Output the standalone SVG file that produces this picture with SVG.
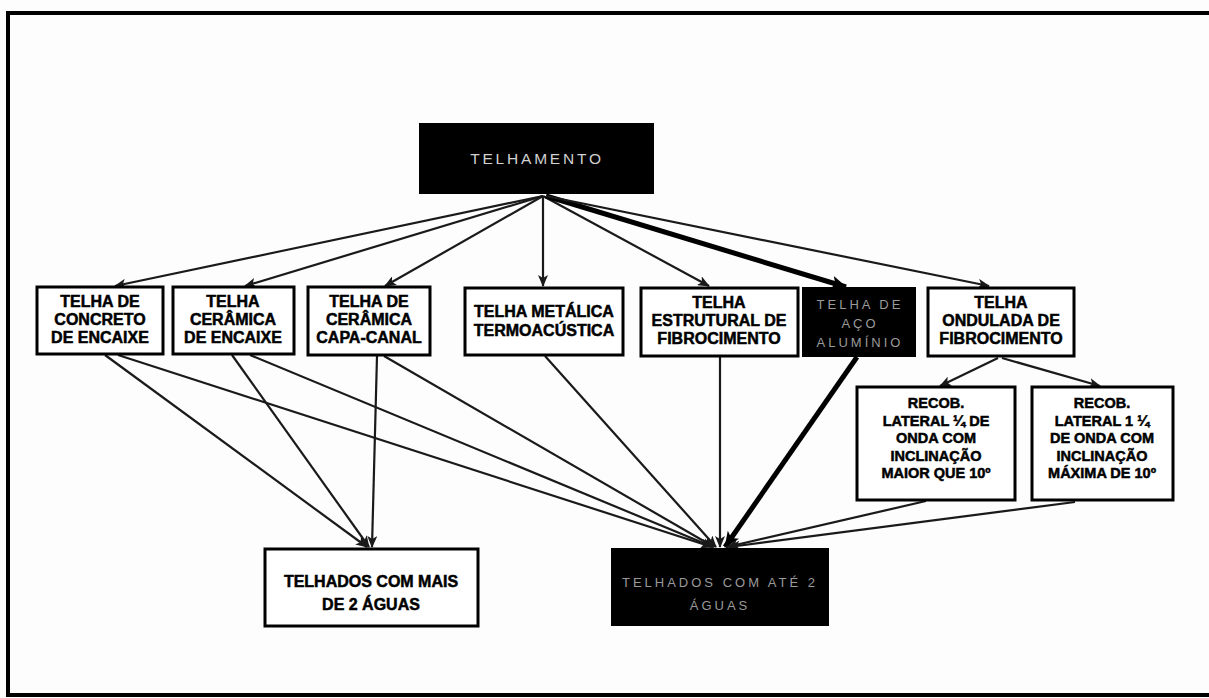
<svg xmlns="http://www.w3.org/2000/svg" width="1209" height="698" viewBox="0 0 1209 698">
<style>
.w{fill:#fff;stroke:#000;stroke-width:3}
.b{fill:#000;stroke:#000;stroke-width:2}
.t{font-family:"Liberation Sans",Arial,sans-serif;font-weight:bold;font-size:16px;fill:#000;stroke:#000;stroke-width:0.5;text-anchor:middle}
.s{font-size:14.5px}
.g{font-family:"Liberation Sans",Arial,sans-serif;font-size:13px;fill:#9a9a9a;text-anchor:middle;letter-spacing:3px}
.c{stroke:#1a1a1a;stroke-width:2.2;fill:none;marker-end:url(#a)}
.k{stroke:#000;stroke-width:5;fill:none;marker-end:url(#ak)}
</style>
<defs>
<marker id="a" markerUnits="userSpaceOnUse" markerWidth="12" markerHeight="10" refX="11" refY="5" orient="auto"><path d="M0,0 L12,5 L0,10 L3,5 Z" fill="#1a1a1a"/></marker>
<marker id="ak" markerUnits="userSpaceOnUse" markerWidth="16" markerHeight="14" refX="15" refY="7" orient="auto"><path d="M0,0 L16,7 L0,14 L4,7 Z" fill="#000"/></marker>
</defs>
<rect width="1209" height="698" fill="#fdfdfd"/>
<path d="M1209,13 L8,13 L8,695 L1209,695" fill="none" stroke="#000" stroke-width="4"/>
<g id="connectors">
<line class="c" x1="543" y1="196" x2="115" y2="286"/>
<line class="c" x1="543" y1="196" x2="245" y2="286"/>
<line class="c" x1="543" y1="196" x2="385" y2="286"/>
<line class="c" x1="543" y1="196" x2="543" y2="286"/>
<line class="c" x1="543" y1="196" x2="709" y2="286"/>
<line class="k" x1="546" y1="196" x2="846" y2="287"/>
<line class="c" x1="546" y1="196" x2="989" y2="286"/>
<line class="c" x1="998" y1="358" x2="940" y2="386"/>
<line class="c" x1="1002" y1="358" x2="1100" y2="386"/>
<line class="c" x1="105" y1="355" x2="367" y2="547"/>
<line class="c" x1="232" y1="355" x2="369" y2="547"/>
<line class="c" x1="377" y1="356" x2="372" y2="547"/>
<line class="c" x1="118" y1="355" x2="712" y2="547"/>
<line class="c" x1="250" y1="355" x2="713" y2="547"/>
<line class="c" x1="384" y1="356" x2="714" y2="547"/>
<line class="c" x1="545" y1="356" x2="716" y2="547"/>
<line class="c" x1="720" y1="357" x2="720" y2="547"/>
<line class="k" x1="857" y1="357" x2="725" y2="547"/>
<line class="c" x1="926" y1="501" x2="727" y2="547"/>
<line class="c" x1="1075" y1="502" x2="729" y2="547"/>
</g>
<g id="telhamento">
<rect class="b" x="420" y="124" width="233" height="69"/>
<text x="537" y="164" font-family="Liberation Sans,Arial,sans-serif" font-size="15.5" fill="#d0d0d0" text-anchor="middle" letter-spacing="2.8">TELHAMENTO</text>
</g>
<g id="n1">
<rect class="w" x="37" y="287" width="126" height="67"/>
<text class="t" x="100" y="307">TELHA DE</text>
<text class="t" x="100" y="325">CONCRETO</text>
<text class="t" x="100" y="343">DE ENCAIXE</text>
</g>
<g id="n2">
<rect class="w" x="173" y="287" width="121" height="67"/>
<text class="t" x="233" y="307">TELHA</text>
<text class="t" x="233" y="325">CERÂMICA</text>
<text class="t" x="233" y="343">DE ENCAIXE</text>
</g>
<g id="n3">
<rect class="w" x="308" y="287" width="122" height="68"/>
<text class="t" x="369" y="307">TELHA DE</text>
<text class="t" x="369" y="325">CERÂMICA</text>
<text class="t" x="369" y="343">CAPA-CANAL</text>
</g>
<g id="n4">
<rect class="w" x="465" y="288" width="158" height="67"/>
<text class="t" x="544" y="317">TELHA METÁLICA</text>
<text class="t" x="544" y="336">TERMOACÚSTICA</text>
</g>
<g id="n5">
<rect class="w" x="641" y="288" width="157" height="68"/>
<text class="t" x="719" y="308">TELHA</text>
<text class="t" x="719" y="326">ESTRUTURAL DE</text>
<text class="t" x="719" y="344">FIBROCIMENTO</text>
</g>
<g id="n6">
<rect class="b" x="803" y="288" width="112" height="68"/>
<text class="g" x="860" y="309">TELHA DE</text>
<text class="g" x="860" y="328">AÇO</text>
<text class="g" x="860" y="347">ALUMÍNIO</text>
</g>
<g id="n7">
<rect class="w" x="928" y="288" width="146" height="68"/>
<text class="t" x="1001" y="308">TELHA</text>
<text class="t" x="1001" y="326">ONDULADA DE</text>
<text class="t" x="1001" y="344">FIBROCIMENTO</text>
</g>
<g id="r1">
<rect class="w" x="857" y="387" width="158" height="113"/>
<text class="t s" x="936" y="408">RECOB.</text>
<text class="t s" x="936" y="426">LATERAL ¼ DE</text>
<text class="t s" x="936" y="443">ONDA COM</text>
<text class="t s" x="936" y="461">INCLINAÇÃO</text>
<text class="t s" x="936" y="478">MAIOR QUE 10º</text>
</g>
<g id="r2">
<rect class="w" x="1032" y="387" width="141" height="113"/>
<text class="t s" x="1102" y="408">RECOB.</text>
<text class="t s" x="1102" y="426">LATERAL 1 ¼</text>
<text class="t s" x="1102" y="443">DE ONDA COM</text>
<text class="t s" x="1102" y="461">INCLINAÇÃO</text>
<text class="t s" x="1102" y="478">MÁXIMA DE 10º</text>
</g>
<g id="mais">
<rect class="w" x="265" y="549" width="213" height="77"/>
<text class="t" x="371" y="587" font-size="16.5">TELHADOS COM MAIS</text>
<text class="t" x="371" y="610" font-size="16.5">DE 2 ÁGUAS</text>
</g>
<g id="ate">
<rect class="b" x="612" y="549" width="216" height="76"/>
<text class="g" x="720" y="587">TELHADOS COM ATÉ 2</text>
<text class="g" x="720" y="610">ÁGUAS</text>
</g>
</svg>
